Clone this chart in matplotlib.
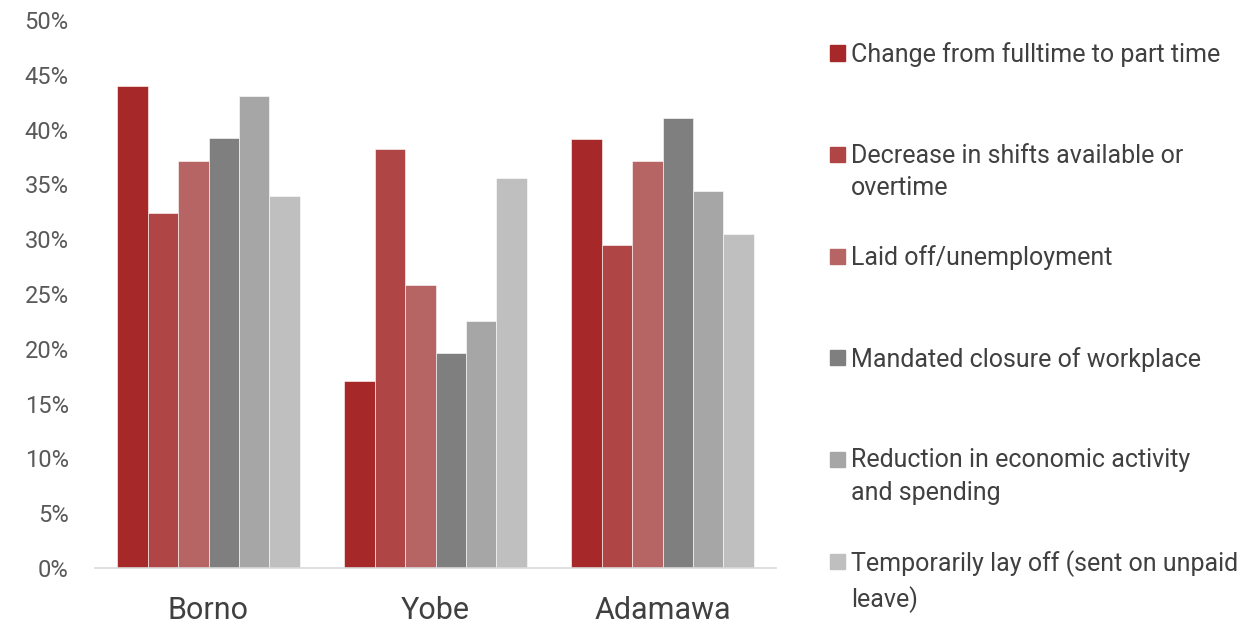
import matplotlib
matplotlib.use("Agg")
import matplotlib.pyplot as plt
from matplotlib.patches import Rectangle
from matplotlib.ticker import FuncFormatter
import numpy as np

plt.rcParams['font.family'] = ['Roboto', 'DejaVu Sans']

# ---- data ----
regions = ["Borno", "Yobe", "Adamawa"]
series_labels = [
    "Change from fulltime to part time",
    "Decrease in shifts available or\novertime",
    "Laid off/unemployment",
    "Mandated closure of workplace",
    "Reduction in economic activity\nand spending",
    "Temporarily lay off (sent on unpaid\nleave)",
]
change_ft_pt = [44.0, 17.1, 39.1]
decrease_shifts = [32.4, 38.2, 29.5]
laid_off = [37.1, 25.8, 37.1]
mandated_closure = [39.2, 19.6, 41.1]
reduction_activity = [43.1, 22.5, 34.4]
temporary_layoff = [33.9, 35.6, 30.5]
series_values = [change_ft_pt, decrease_shifts, laid_off,
                 mandated_closure, reduction_activity, temporary_layoff]
yticks = [0, 5, 10, 15, 20, 25, 30, 35, 40, 45, 50]

colors = ['#A62828', '#B04545', '#B76464', '#7F7F7F', '#A6A6A6', '#BFBFBF']

W, H = 1254, 629
fig = plt.figure(figsize=(W / 100, H / 100), dpi=100)
ax = fig.add_axes([95 / W, 1 - 568 / H, (776 - 95) / W, (568 - 20) / H])

n = len(series_values)
gw = 0.806
bw = gw / n
x = np.arange(len(regions))
for i, (vals, c) in enumerate(zip(series_values, colors)):
    ax.bar(x - gw / 2 + bw * (i + 0.5), vals, width=bw, color=c,
           edgecolor='#FFFFFF', linewidth=0.4, zorder=2)

ax.set_xlim(-0.5, len(regions) - 0.5)
ax.set_ylim(0, 50)
ax.set_yticks(yticks)
ax.yaxis.set_major_formatter(FuncFormatter(lambda v, p: f"{v:.0f}%"))
ax.set_xticks(x)
ax.set_xticklabels(regions)
for s in ['top', 'right', 'left']:
    ax.spines[s].set_visible(False)
ax.spines['bottom'].set_color('#D9D9D9')
ax.spines['bottom'].set_linewidth(1.2)
ax.tick_params(axis='y', length=0, pad=19, labelsize=17, labelcolor='#595959')
ax.tick_params(axis='x', length=0, pad=20, labelsize=22, labelcolor='#404040')

# ---- legend (manual, fixed spacing) ----
y0, step = 53, 101.6
for i, (lab, c) in enumerate(zip(series_labels, colors)):
    yc = y0 + i * step
    fig.add_artist(Rectangle((830 / W, 1 - (yc + 7.5) / H), 15 / W, 15 / H,
                             transform=fig.transFigure, color=c))
    fig.text(851 / W, 1 - (yc - 11) / H, lab, ha='left', va='top',
             fontsize=18, color='#404040', linespacing=1.45)

fig.savefig("out.png", dpi=100)
